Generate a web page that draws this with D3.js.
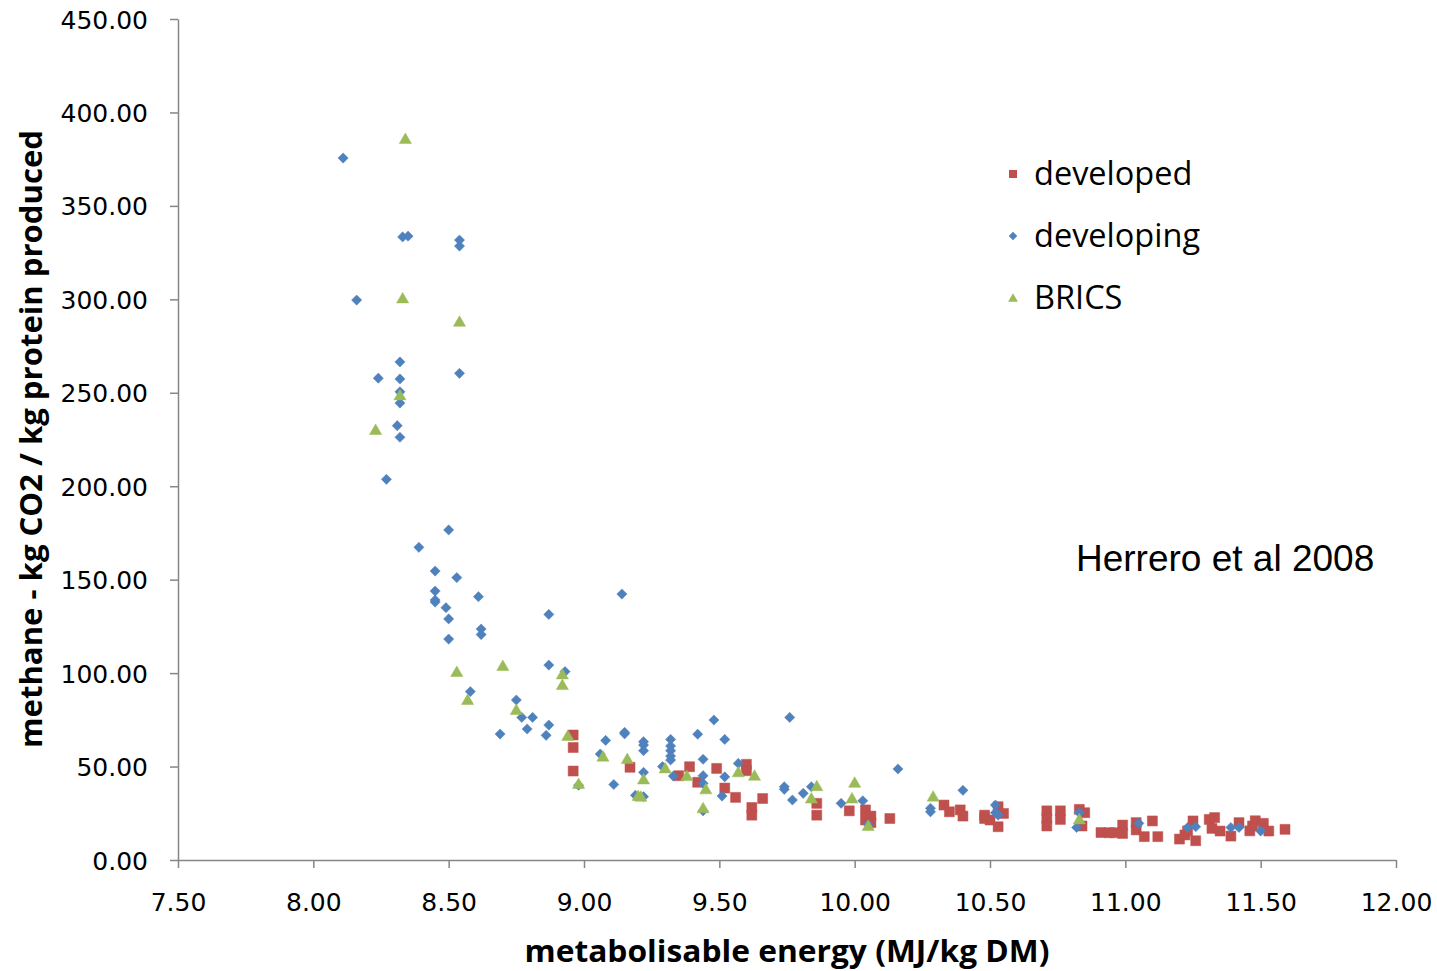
<!DOCTYPE html>
<html>
<head>
<meta charset="utf-8">
<script src="https://cdn.jsdelivr.net/npm/d3@7"></script>
<style>
  html, body { margin: 0; padding: 0; background: #ffffff; }
  svg { display: block; }
</style>
</head>
<body>
<svg id="chart" width="1437" height="971"></svg>
<script>
// ---- data ----
const developedX = [8.96, 8.96, 8.96, 9.17, 9.35, 9.39, 9.42, 9.49, 9.52, 9.56, 9.60, 9.60, 9.66, 9.62, 9.62,
  9.86, 9.86, 9.98, 10.04, 10.06, 10.04, 10.06, 10.13, 10.33, 10.35, 10.39, 10.40, 10.48, 10.48, 10.50,
  10.53, 10.55, 10.53, 10.71, 10.71, 10.71, 10.76, 10.76, 10.83, 10.85, 10.84, 10.91, 10.94, 10.96, 10.99,
  10.99, 11.04, 11.04, 11.07, 11.10, 11.12, 11.20, 11.22, 11.23, 11.25, 11.26, 11.31, 11.33, 11.32, 11.35,
  11.39, 11.42, 11.46, 11.47, 11.48, 11.51, 11.53, 11.59];
const developedY = [66.9, 60.2, 47.6, 49.6, 45.1, 49.9, 41.6, 49.0, 38.5, 33.5, 51.2, 47.8, 32.9, 28.1, 24.0,
  30.3, 24.0, 26.3, 26.8, 23.5, 21.4, 20.0, 22.2, 29.4, 25.8, 26.8, 23.5, 24.0, 22.2, 21.4,
  28.5, 24.9, 17.8, 26.3, 22.2, 18.2, 26.3, 21.7, 27.1, 25.3, 18.2, 14.7, 14.6, 14.6, 18.7,
  14.2, 20.0, 16.1, 12.5, 20.9, 12.5, 11.2, 13.4, 15.6, 20.9, 10.3, 21.7, 22.7, 16.9, 15.5,
  12.8, 20.0, 15.6, 18.2, 21.0, 19.6, 15.5, 16.4];

const developingX = [8.11, 8.16, 8.24, 8.33, 8.35, 8.54, 8.54, 8.32, 8.32, 8.32, 8.32, 8.31, 8.32, 8.54,
  8.27, 8.50, 8.39, 8.45, 8.53, 8.45, 8.45, 8.45, 8.61, 8.49, 8.50, 8.62, 8.62, 8.50, 8.87, 9.14,
  8.87, 8.93, 8.58, 8.75, 8.77, 8.81, 8.79, 8.87, 8.69, 8.86, 9.08, 9.15, 9.15, 8.98, 9.06, 9.11,
  9.19, 9.22, 9.22, 9.22, 9.22, 9.22, 9.32, 9.32, 9.32, 9.32, 9.32, 9.29, 9.33, 9.42, 9.48, 9.52,
  9.44, 9.44, 9.44, 9.44, 9.52, 9.51, 9.57, 9.76, 9.74, 9.74, 9.77, 9.81, 9.84, 9.95, 10.03, 10.05,
  10.16, 10.28, 10.28, 10.40, 10.52, 10.52, 10.53, 10.83, 10.82, 11.05, 11.23, 11.26, 11.39, 11.42, 11.50];
const developingY = [375.6, 299.6, 257.8, 333.4, 333.8, 331.7, 328.5, 266.5, 257.4, 250.5, 244.5, 232.4, 226.2, 260.4,
  203.7, 176.6, 167.3, 154.6, 151.1, 143.9, 139.1, 138.0, 140.9, 135.0, 129.0, 123.6, 120.6, 118.2, 131.4, 142.3,
  104.3, 100.8, 90.1, 85.6, 76.3, 76.3, 70.1, 72.2, 67.4, 66.7, 64.0, 68.3, 67.5, 40.0, 56.7, 40.4,
  34.6, 33.9, 63.3, 61.5, 58.5, 46.9, 64.5, 61.0, 58.5, 55.6, 53.5, 50.0, 44.9, 67.3, 74.9, 64.5,
  53.9, 45.1, 41.0, 26.3, 44.5, 34.2, 51.7, 76.3, 39.2, 37.8, 32.1, 35.7, 39.2, 30.3, 31.7, 19.0,
  48.7, 27.7, 25.8, 37.3, 29.4, 25.3, 24.0, 25.3, 17.4, 19.6, 17.4, 17.8, 17.4, 17.4, 15.5];

const bricsX = [8.34, 8.33, 8.54, 8.23, 8.32, 8.53, 8.70, 8.92, 8.92, 8.57, 8.75, 8.94, 8.98, 9.07, 9.16,
  9.20, 9.21, 9.22, 9.30, 9.38, 9.45, 9.44, 9.57, 9.63, 9.86, 9.84, 10.00, 9.99, 10.05, 10.29, 10.83];
const bricsY = [385.8, 300.5, 288.0, 230.1, 248.6, 100.6, 103.8, 99.3, 93.6, 85.6, 80.3, 66.4, 40.7, 55.3, 54.0,
  34.2, 33.9, 43.1, 49.0, 44.9, 37.8, 27.7, 46.9, 45.1, 39.5, 32.9, 41.3, 32.9, 18.2, 33.9, 21.7];

const seriesNames = ["developed", "developing", "BRICS"];
const xTicks = [7.5, 8, 8.5, 9, 9.5, 10, 10.5, 11, 11.5, 12];
const yTicks = [0, 50, 100, 150, 200, 250, 300, 350, 400, 450];
const xTitle = "metabolisable energy (MJ/kg DM)";
const yTitle = "methane - kg CO2 / kg protein produced";
const note = "Herrero et al 2008";

// ---- drawing ----
(function () {
const svg = d3.select("#chart");
const W = 1437, H = 971;
const mLeft = 178, mRight = 1396, mTop = 19, mBottom = 860;
const axisColor = "#868686";
const colors = ["#C0504D", "#4F81BD", "#9BBB59"];

svg.append("rect").attr("width", W).attr("height", H).attr("fill", "#fff");

const x = d3.scaleLinear().domain([7.5, 12]).range([mLeft, mRight]);
const y = d3.scaleLinear().domain([0, 450]).range([mBottom, mTop]);

const xAxis = svg.append("g").attr("transform", `translate(0,${mBottom})`)
  .call(d3.axisBottom(x).tickValues(xTicks).tickFormat(d3.format(".2f")).tickSize(8).tickSizeOuter(0).tickPadding(25));
const yAxis = svg.append("g").attr("transform", `translate(${mLeft},0)`)
  .call(d3.axisLeft(y).tickValues(yTicks).tickFormat(d3.format(".2f")).tickSize(8).tickSizeOuter(0).tickPadding(22));

[xAxis, yAxis].forEach(g => {
  g.select(".domain").attr("stroke", axisColor).attr("stroke-width", 1.5);
  g.selectAll(".tick line").attr("stroke", axisColor).attr("stroke-width", 1.5);
  g.selectAll(".tick text").attr("fill", "#000").attr("font-family", "DejaVu Sans, Verdana, sans-serif").attr("font-size", 25);
});
yAxis.selectAll(".tick text").attr("dy", "0.36em");
xAxis.selectAll(".tick text").attr("dy", "0.71em");

// markers
const diamondType = {
  draw(ctx, size) {
    const r = Math.sqrt(size / 2);
    ctx.moveTo(0, -r); ctx.lineTo(r, 0); ctx.lineTo(0, r); ctx.lineTo(-r, 0); ctx.closePath();
  }
};
const symSquare = d3.symbol().type(d3.symbolSquare).size(100);
const symDiamond = d3.symbol().type(diamondType).size(52);
const symTriangle = d3.symbol().type(d3.symbolTriangle).size(64);
const syms = [symSquare, symDiamond, symTriangle];

const series = [
  d3.zip(developedX, developedY),
  d3.zip(developingX, developingY),
  d3.zip(bricsX, bricsY)
];

series.forEach((pts, i) => {
  svg.append("g").selectAll("path").data(pts).join("path")
    .attr("d", syms[i])
    .attr("transform", d => `translate(${x(d[0])},${y(d[1]) + (i === 2 ? 1 : 0)})`)
    .attr("fill", colors[i])
    .attr("stroke", colors[i]).attr("stroke-opacity", 0.5).attr("stroke-width", 1);
});

// legend
const legSyms = [d3.symbol().type(d3.symbolSquare).size(64), d3.symbol().type(diamondType).size(36), d3.symbol().type(d3.symbolTriangle).size(42)];
const legY = [174, 236, 298];
const leg = svg.append("g");
seriesNames.forEach((name, i) => {
  leg.append("path").attr("d", legSyms[i]).attr("transform", `translate(1013,${legY[i] + (i === 2 ? 1 : 0)})`).attr("fill", colors[i]);
  leg.append("text").attr("x", 1034).attr("y", legY[i]).attr("dy", "0.35em")
    .attr("font-family", "Open Sans, sans-serif").attr("font-size", 32.5).attr("fill", "#000").text(name);
});

// note
svg.append("text").attr("x", 1076).attr("y", 571).attr("font-family", "Liberation Sans, Arial, sans-serif")
  .attr("font-size", 37).attr("fill", "#000").text(note);

// axis titles
svg.append("text").attr("x", 787).attr("y", 962).attr("text-anchor", "middle")
  .attr("font-family", "Open Sans, sans-serif").attr("font-weight", "bold").attr("font-size", 31)
  .attr("textLength", 525).attr("lengthAdjust", "spacingAndGlyphs").attr("fill", "#000").text(xTitle);
svg.append("text").attr("transform", `translate(42,439) rotate(-90)`).attr("text-anchor", "middle")
  .attr("font-family", "Open Sans, sans-serif").attr("font-weight", "bold").attr("font-size", 31)
  .attr("textLength", 618).attr("lengthAdjust", "spacingAndGlyphs").attr("fill", "#000").text(yTitle);
})();
</script>
</body>
</html>
